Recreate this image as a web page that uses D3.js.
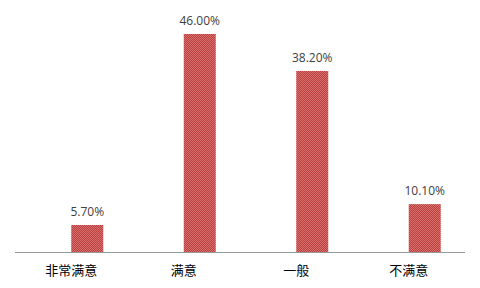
<!doctype html>
<html lang="zh">
<head>
<meta charset="utf-8">
<script src="https://cdn.jsdelivr.net/npm/d3@7"></script>
<style>
body { margin: 0; background: #fff; }
svg { display: block; }
</style>
</head>
<body>
<svg id="chart" width="480" height="288"></svg>
<script>
var categories = ['非常满意', '满意', '一般', '不满意']
var series = ['', '比例']   // first slot of each cluster is empty in the original
var values = [5.70, 46.00, 38.20, 10.10]

var svg = d3.select('#chart')
var x = d3.scaleBand().domain(categories).range([15, 465]).paddingInner(0.431).paddingOuter(0.2156)
var xs = d3.scaleBand().domain(series).range([0, x.bandwidth()])
var y = d3.scaleLinear().domain([0, 50]).range([252, 15])

// checker fill like the original hatched bars
var defs = svg.append('defs')
var pat = defs.append('pattern').attr('id', 'chk')
	.attr('width', 2).attr('height', 2).attr('patternUnits', 'userSpaceOnUse')
pat.append('rect').attr('width', 2).attr('height', 2).attr('fill', '#b8413f')
pat.append('rect').attr('width', 1).attr('height', 1).attr('fill', '#d9706d')
pat.append('rect').attr('x', 1).attr('y', 1).attr('width', 1).attr('height', 1).attr('fill', '#d9706d')

var bx = (i) => x(categories[i]) + xs('比例')

svg.selectAll('rect.bar')
	.data(values).enter()
	.append('rect').classed('bar', true)
	.attr('x', (d, i) => bx(i))
	.attr('y', d => y(d))
	.attr('width', xs.bandwidth())
	.attr('height', d => y(0) - y(d))
	.attr('fill', 'url(#chk)')

svg.append('line')
	.attr('x1', 15).attr('x2', 465)
	.attr('y1', y(0) + 0.5).attr('y2', y(0) + 0.5)
	.attr('stroke', '#999').attr('stroke-width', 1)

svg.selectAll('text.val')
	.data(values).enter()
	.append('text').classed('val', true)
	.attr('x', (d, i) => bx(i) + xs.bandwidth() / 2)
	.attr('y', d => y(d) - 9)
	.attr('text-anchor', 'middle')
	.attr('font-family', 'Open Sans, sans-serif')
	.attr('font-size', 12)
	.attr('fill', '#404040')
	.text(d => d.toFixed(2) + '%')

svg.selectAll('text.cat')
	.data(categories).enter()
	.append('text').classed('cat', true)
	.attr('x', d => x(d) + x.bandwidth() / 2)
	.attr('y', 275)
	.attr('text-anchor', 'middle')
	.attr('font-family', 'Noto Sans CJK SC, sans-serif')
	.attr('font-size', 13)
	.attr('fill', '#000')
	.text(d => d)
</script>
</body>
</html>
